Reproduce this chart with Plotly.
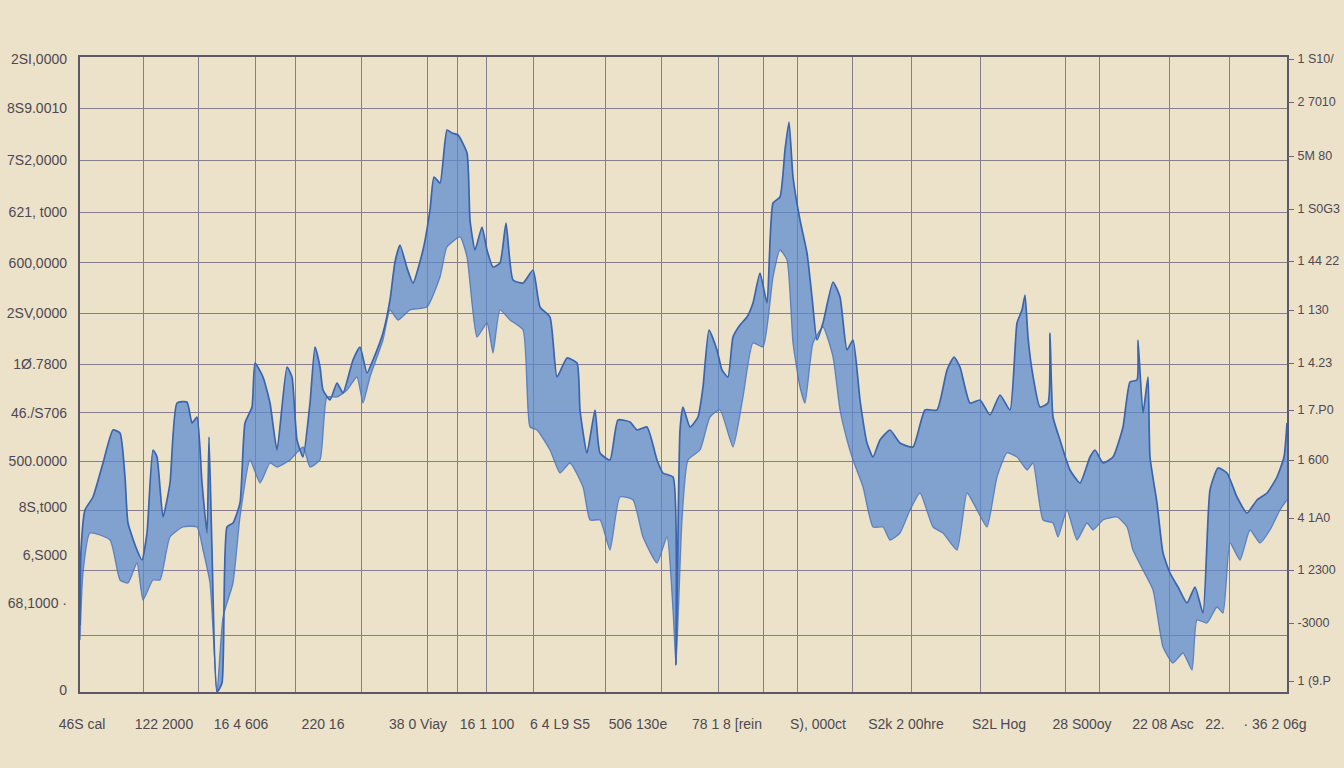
import plotly.graph_objects as go

# ---- data ----
upper_x = [80, 81, 85, 93, 103, 113, 120, 125, 128, 137, 142, 147, 153, 157, 163, 170, 177, 187, 192, 197,
           202, 207, 209, 212, 217, 222, 227, 233, 240, 245, 252, 255, 263, 270, 277, 287, 292, 297, 303, 310,
           315, 320, 323, 330, 337, 343, 353, 360, 367, 373, 383, 390, 395, 400, 407, 413, 423, 430, 434, 440,
           447, 452, 458, 467, 470, 475, 482, 487, 493, 500, 506, 513, 523, 533, 540, 550, 557, 567, 577, 580,
           587, 595, 600, 610, 618, 630, 637, 647, 657, 663, 673, 676, 680, 683, 690, 698, 703, 709, 717, 722,
           728, 733, 740, 747, 753, 760, 767, 773, 780, 785, 789, 793, 800, 807, 812, 817, 823, 833, 840, 847,
           853, 860, 867, 873, 880, 890, 900, 913, 925, 937, 947, 954, 960, 970, 980, 990, 1000, 1010, 1017, 1022,
           1025, 1028, 1032, 1040, 1048, 1050, 1053, 1060, 1070, 1080, 1090, 1095, 1103, 1113, 1123, 1130, 1137,
           1138, 1143, 1148, 1150, 1157, 1163, 1170, 1178, 1187, 1195, 1203, 1210, 1218, 1227, 1237, 1247, 1257,
           1267, 1277, 1284, 1287]
upper_y = [67, 142, 182, 195, 229, 262, 259, 215, 169, 142, 132, 159, 242, 235, 175, 209, 289, 290, 269, 275,
           209, 159, 255, 142, 0, 9, 165, 169, 189, 269, 285, 329, 315, 289, 242, 325, 315, 252, 235, 289,
           345, 325, 302, 292, 309, 299, 332, 345, 319, 332, 359, 392, 430, 447, 424, 409, 442, 482, 515, 509,
           562, 559, 557, 539, 472, 442, 465, 442, 425, 429, 469, 412, 409, 422, 385, 375, 315, 334, 329, 282,
           239, 282, 239, 232, 272, 270, 262, 265, 232, 219, 215, 27, 262, 285, 265, 275, 305, 362, 342, 322,
           315, 355, 367, 375, 389, 419, 389, 489, 495, 542, 570, 515, 472, 439, 395, 352, 369, 410, 395, 342,
           352, 292, 249, 235, 252, 262, 249, 245, 282, 282, 322, 335, 325, 289, 292, 277, 297, 282, 369, 382,
           397, 355, 322, 285, 289, 359, 275, 252, 222, 209, 235, 242, 229, 235, 265, 310, 312,
           352, 279, 315, 235, 189, 139, 119, 105, 89, 105, 79, 202, 224, 219, 195, 179, 192,
           199, 215, 235, 269]

lower_x = [80, 83, 90, 110, 120, 128, 137, 143, 153, 160, 170, 183, 197, 203, 210, 217, 223, 233, 240, 250,
           260, 270, 277, 290, 303, 310, 320, 327, 337, 347, 357, 363, 370, 383, 390, 398, 410, 427, 440, 447,
           460, 467, 477, 487, 493, 500, 510, 523, 530, 537, 550, 560, 570, 583, 590, 600, 610, 620, 633, 643,
           657, 667, 673, 676, 682, 688, 700, 710, 720, 733, 743, 753, 763, 773, 780, 787, 793, 800, 805, 813,
           823, 833, 840, 847, 853, 863, 873, 883, 890, 900, 910, 920, 933, 943, 957, 967, 977, 987, 997, 1007,
           1017, 1027, 1033, 1043, 1053, 1058, 1067, 1077, 1087, 1093, 1103, 1117, 1127, 1133, 1143, 1153, 1163,
           1173, 1183, 1192, 1197, 1207, 1217, 1223, 1230, 1240, 1250, 1260, 1270, 1280, 1287]
lower_y = [52, 119, 159, 152, 112, 109, 129, 92, 112, 112, 155, 165, 165, 142, 109, 0, 75, 109, 175, 232,
           209, 229, 225, 232, 245, 225, 232, 295, 295, 302, 315, 289, 315, 352, 382, 372, 382, 385, 415, 445,
           455, 435, 355, 369, 339, 382, 372, 362, 265, 262, 242, 219, 229, 205, 172, 172, 142, 195, 192, 155,
           129, 155, 82, 27, 172, 232, 242, 275, 282, 245, 295, 349, 345, 415, 442, 432, 349, 305, 289, 349,
           365, 335, 282, 252, 232, 205, 165, 165, 152, 159, 182, 199, 165, 159, 142, 199, 182, 165, 215, 239,
           235, 222, 229, 172, 169, 155, 182, 152, 169, 162, 172, 175, 165, 142, 122, 102, 45,
           29, 39, 22, 72, 69, 85, 79, 149, 132, 162, 149, 162, 182, 192]

# grid positions
x_grid = [143, 198, 255, 295, 361, 427, 457, 486, 533, 605, 661, 718, 763, 797, 852, 911, 980,
          1065, 1099, 1169, 1229]
y_grid = [57, 122, 182, 231, 280, 328, 379, 430, 480, 532, 584]

# tick labels
left_vals = [633, 584, 532, 480, 429, 379, 328, 279, 231, 185, 137, 89, 2]
left_text = ["2SI,0000", "8S9.0010", "7S2,0000", "621, t000", "600,0000", "2SV,0000", "1Ø.7800",
             "46./S706", "500.0000", "8S,t000", "6,S000", "68,1000 ·", "0"]
right_vals = [633, 590, 536, 483, 431, 382, 329, 282, 232, 174, 122, 69, 11]
right_text = ["1 S10/", "2 7010", "5M 80", "1 S0G3", "1 44 22", "1 130", "1 4.23", "1 7.P0",
              "1 600", "4 1A0", "1 2300", "-3000", "1 (9.P"]
bottom_vals = [82, 164, 241, 323, 418, 487, 560, 638, 727, 818, 906, 999, 1082, 1163, 1215, 1275]
bottom_text = ["46S cal", "122 2000", "16 4 606", "220 16", "38 0 Viay", "16 1 100", "6 4 L9 S5",
               "506 130e", "78 1 8 [rein", "S), 000ct", "S2k 2 00hre", "S2L Hog", "28 S00oy",
               "22 08 Asc", "22.", "· 36 2 06g"]

BG = "#ece2ca"
GRID = "#857e8c"
TXT = "#4d4852"
FONT = "Liberation Sans Narrow, Liberation Sans, Arial Narrow, sans-serif"

fig = go.Figure()
fig.add_trace(go.Scatter(x=lower_x, y=lower_y, mode="lines",
                         line=dict(color="rgba(70,115,190,0.8)", width=1.3, shape="spline", smoothing=0.5),
                         showlegend=False, hoverinfo="skip"))
fig.add_trace(go.Scatter(x=upper_x, y=upper_y, mode="lines", fill="tonexty",
                         fillcolor="rgba(88,136,208,0.72)",
                         line=dict(color="#3a65ad", width=1.7, shape="spline", smoothing=0.5),
                         showlegend=False, hoverinfo="skip"))
# invisible traces to activate extra axes
fig.add_trace(go.Scatter(x=[bottom_vals[0]], y=[0], xaxis="x2", yaxis="y", mode="markers",
                         marker=dict(opacity=0), showlegend=False, hoverinfo="skip"))
fig.add_trace(go.Scatter(x=[80], y=[right_vals[0]], xaxis="x", yaxis="y2", mode="markers",
                         marker=dict(opacity=0), showlegend=False, hoverinfo="skip"))
fig.add_trace(go.Scatter(x=[80], y=[left_vals[0]], xaxis="x", yaxis="y3", mode="markers",
                         marker=dict(opacity=0), showlegend=False, hoverinfo="skip"))

fig.update_layout(
    width=1344, height=768,
    margin=dict(l=80, r=57, t=57, b=76, autoexpand=False),
    paper_bgcolor=BG, plot_bgcolor=BG,
    font=dict(family=FONT, size=14, color=TXT),
    xaxis=dict(range=[80, 1287], tickvals=x_grid, showticklabels=False, ticks="",
               showgrid=True, gridcolor=GRID, gridwidth=1.3, zeroline=False, automargin=False,
               showline=True, linecolor="#5e5866", linewidth=1.6, mirror=True),
    xaxis2=dict(range=[80, 1287], overlaying="x", side="bottom", tickvals=bottom_vals,
                ticktext=bottom_text, showgrid=False, zeroline=False, ticks="", automargin=False,
                ticklabelstandoff=22, tickfont=dict(size=14, color=TXT, family=FONT)),
    yaxis=dict(range=[0, 635], tickvals=y_grid, showticklabels=False, ticks="",
               showgrid=True, gridcolor=GRID, gridwidth=1.3, zeroline=False, automargin=False,
               showline=True, linecolor="#5e5866", linewidth=1.6, mirror=True),
    yaxis2=dict(range=[0, 635], overlaying="y", side="right", tickvals=right_vals,
                ticktext=right_text, showgrid=False, zeroline=False, automargin=False,
                ticks="outside", ticklen=6, tickcolor="#6e6874", ticklabelstandoff=1,
                tickfont=dict(size=12.5, color=TXT, family=FONT)),
    yaxis3=dict(range=[0, 635], overlaying="y", side="left", tickvals=left_vals,
                ticktext=left_text, showgrid=False, zeroline=False, ticks="", automargin=False,
                ticklabelstandoff=12, tickfont=dict(size=14, color=TXT, family=FONT)),
)

fig.write_html("out.html")
